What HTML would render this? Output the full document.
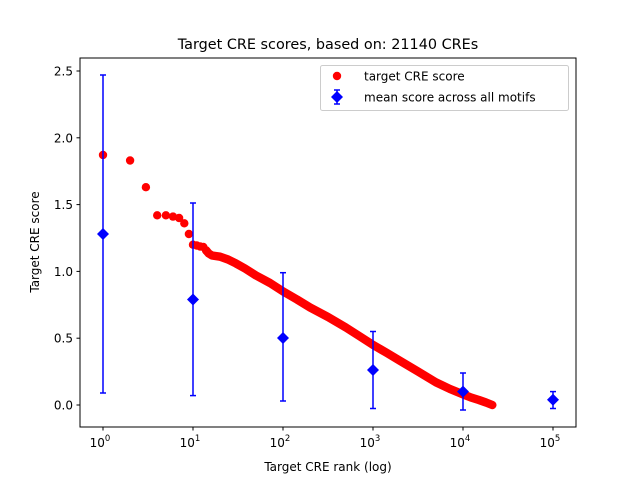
<!DOCTYPE html>
<html><head><style>body{margin:0;background:#fff}svg text{font-family:"DejaVu Sans","Liberation Sans",sans-serif;fill:#000}</style></head>
<body>
<svg width="640" height="480" viewBox="0 0 640 480" xmlns="http://www.w3.org/2000/svg">
<rect width="640" height="480" fill="#fff"/>
<g stroke="#000" stroke-width="1">
<!-- y ticks -->
<line x1="80" y1="405" x2="76.5" y2="405"/><line x1="80" y1="338.2" x2="76.5" y2="338.2"/><line x1="80" y1="271.4" x2="76.5" y2="271.4"/><line x1="80" y1="204.6" x2="76.5" y2="204.6"/><line x1="80" y1="137.8" x2="76.5" y2="137.8"/><line x1="80" y1="71" x2="76.5" y2="71"/>
<!-- x major ticks -->
<line x1="103" y1="427" x2="103" y2="430.5"/><line x1="193" y1="427" x2="193" y2="430.5"/><line x1="283" y1="427" x2="283" y2="430.5"/><line x1="373" y1="427" x2="373" y2="430.5"/><line x1="463" y1="427" x2="463" y2="430.5"/><line x1="553" y1="427" x2="553" y2="430.5"/>
</g>
<g stroke="#000" stroke-width="0.6" id="minor"></g>
<g font-size="12" text-anchor="end">
<text x="73" y="409.5">0.0</text><text x="73" y="342.7">0.5</text><text x="73" y="275.9">1.0</text><text x="73" y="209.1">1.5</text><text x="73" y="142.3">2.0</text><text x="73" y="75.5">2.5</text>
</g>
<g font-size="12" text-anchor="middle">
<text x="100" y="447">10<tspan font-size="8.5" dy="-6">0</tspan></text>
<text x="190" y="447">10<tspan font-size="8.5" dy="-6">1</tspan></text>
<text x="280" y="447">10<tspan font-size="8.5" dy="-6">2</tspan></text>
<text x="370" y="447">10<tspan font-size="8.5" dy="-6">3</tspan></text>
<text x="460" y="447">10<tspan font-size="8.5" dy="-6">4</tspan></text>
<text x="550" y="447">10<tspan font-size="8.5" dy="-6">5</tspan></text>
</g>
<text x="328" y="471" font-size="12" text-anchor="middle">Target CRE rank (log)</text>
<text x="39" y="242" font-size="12" text-anchor="middle" transform="rotate(-90 39 242)">Target CRE score</text>
<text x="328" y="49" font-size="14.4" text-anchor="middle">Target CRE scores, based on: 21140 CREs</text>
<!-- red series -->
<g fill="#f00">
<circle cx="103" cy="155" r="4.2"/><circle cx="130.1" cy="160.5" r="4.2"/><circle cx="145.9" cy="187.2" r="4.2"/><circle cx="157.2" cy="215.3" r="4.2"/><circle cx="165.9" cy="215.3" r="4.2"/><circle cx="173" cy="216.6" r="4.2"/><circle cx="179.1" cy="218" r="4.2"/><circle cx="184.3" cy="223.3" r="4.2"/><circle cx="188.9" cy="234" r="4.2"/><circle cx="193" cy="244.7" r="4.2"/><circle cx="196.7" cy="245.5" r="4.2"/><circle cx="200.1" cy="246.5" r="4.2"/><circle cx="203.3" cy="247" r="4.2"/><circle cx="206.2" cy="250.5" r="4.2"/>
</g>
<polyline fill="none" stroke="#f00" stroke-width="8.4" stroke-linecap="round" stroke-linejoin="round" points="206.2,250.5 208.8,253.5 212,255.5 220.1,256.7 228,259.5 235.9,263.4 245,268.5 255.9,275.4 270,283 283,291.4 297,299.5 310.1,307.5 328,317 345.9,327.5 360,336.5 373,344.9 387,353 400.1,360.9 418,371.5 435.9,382.3 450,389 463,394.3 471,397.5 478.9,400 486,402.5 492.3,405"/>
<!-- blue error bars -->
<g stroke="#00f" stroke-width="1.5">
<line x1="103" y1="393" x2="103" y2="75"/><line x1="100" y1="393" x2="106" y2="393"/><line x1="100" y1="75" x2="106" y2="75"/>
<line x1="193" y1="395.6" x2="193" y2="203"/><line x1="190" y1="395.6" x2="196" y2="395.6"/><line x1="190" y1="203" x2="196" y2="203"/>
<line x1="283" y1="401" x2="283" y2="272.7"/><line x1="280" y1="401" x2="286" y2="401"/><line x1="280" y1="272.7" x2="286" y2="272.7"/>
<line x1="373" y1="408.5" x2="373" y2="331.5"/><line x1="370" y1="408.5" x2="376" y2="408.5"/><line x1="370" y1="331.5" x2="376" y2="331.5"/>
<line x1="463" y1="410" x2="463" y2="373"/><line x1="460" y1="410" x2="466" y2="410"/><line x1="460" y1="373" x2="466" y2="373"/>
<line x1="553" y1="408.5" x2="553" y2="391.6"/><line x1="550" y1="408.5" x2="556" y2="408.5"/><line x1="550" y1="391.6" x2="556" y2="391.6"/>
</g>
<g fill="#00f">
<polygon points="103,228 109,234 103,240 97,234"/>
<polygon points="193,293.5 199,299.5 193,305.5 187,299.5"/>
<polygon points="283,332 289,338 283,344 277,338"/>
<polygon points="373,364 379,370 373,376 367,370"/>
<polygon points="463,385.6 469,391.6 463,397.6 457,391.6"/>
<polygon points="553,393.7 559,399.7 553,405.7 547,399.7"/>
</g>
<!-- axes frame -->
<rect x="80" y="58" width="496" height="369" fill="none" stroke="#000" stroke-width="1"/>
<!-- legend -->
<rect x="320.5" y="65.5" width="248" height="45" rx="2" fill="#fff" fill-opacity="0.8" stroke="#ccc"/>
<circle cx="337" cy="76" r="4.2" fill="#f00"/>
<text x="364" y="80.5" font-size="12">target CRE score</text>
<g stroke="#00f" stroke-width="1.5"><line x1="337" y1="90" x2="337" y2="104"/><line x1="334" y1="90" x2="340" y2="90"/><line x1="334" y1="104" x2="340" y2="104"/></g>
<polygon points="337,91 343,97 337,103 331,97" fill="#00f"/>
<text x="364" y="101.5" font-size="12">mean score across all motifs</text>
<script>
var g=document.getElementById('minor'),s='';
for(var d=0;d<6;d++)for(var k=2;k<10;k++){var x=103+90*(d+Math.log10(k));if(x>576)continue;s+='<line x1="'+x+'" y1="427" x2="'+x+'" y2="429"/>';}
for(var k=2;k<10;k++){var x=103-90*(1-Math.log10(k));if(x>80)s+='<line x1="'+x+'" y1="427" x2="'+x+'" y2="429"/>';}
g.innerHTML=s;
</script>
</svg>
</body></html>
